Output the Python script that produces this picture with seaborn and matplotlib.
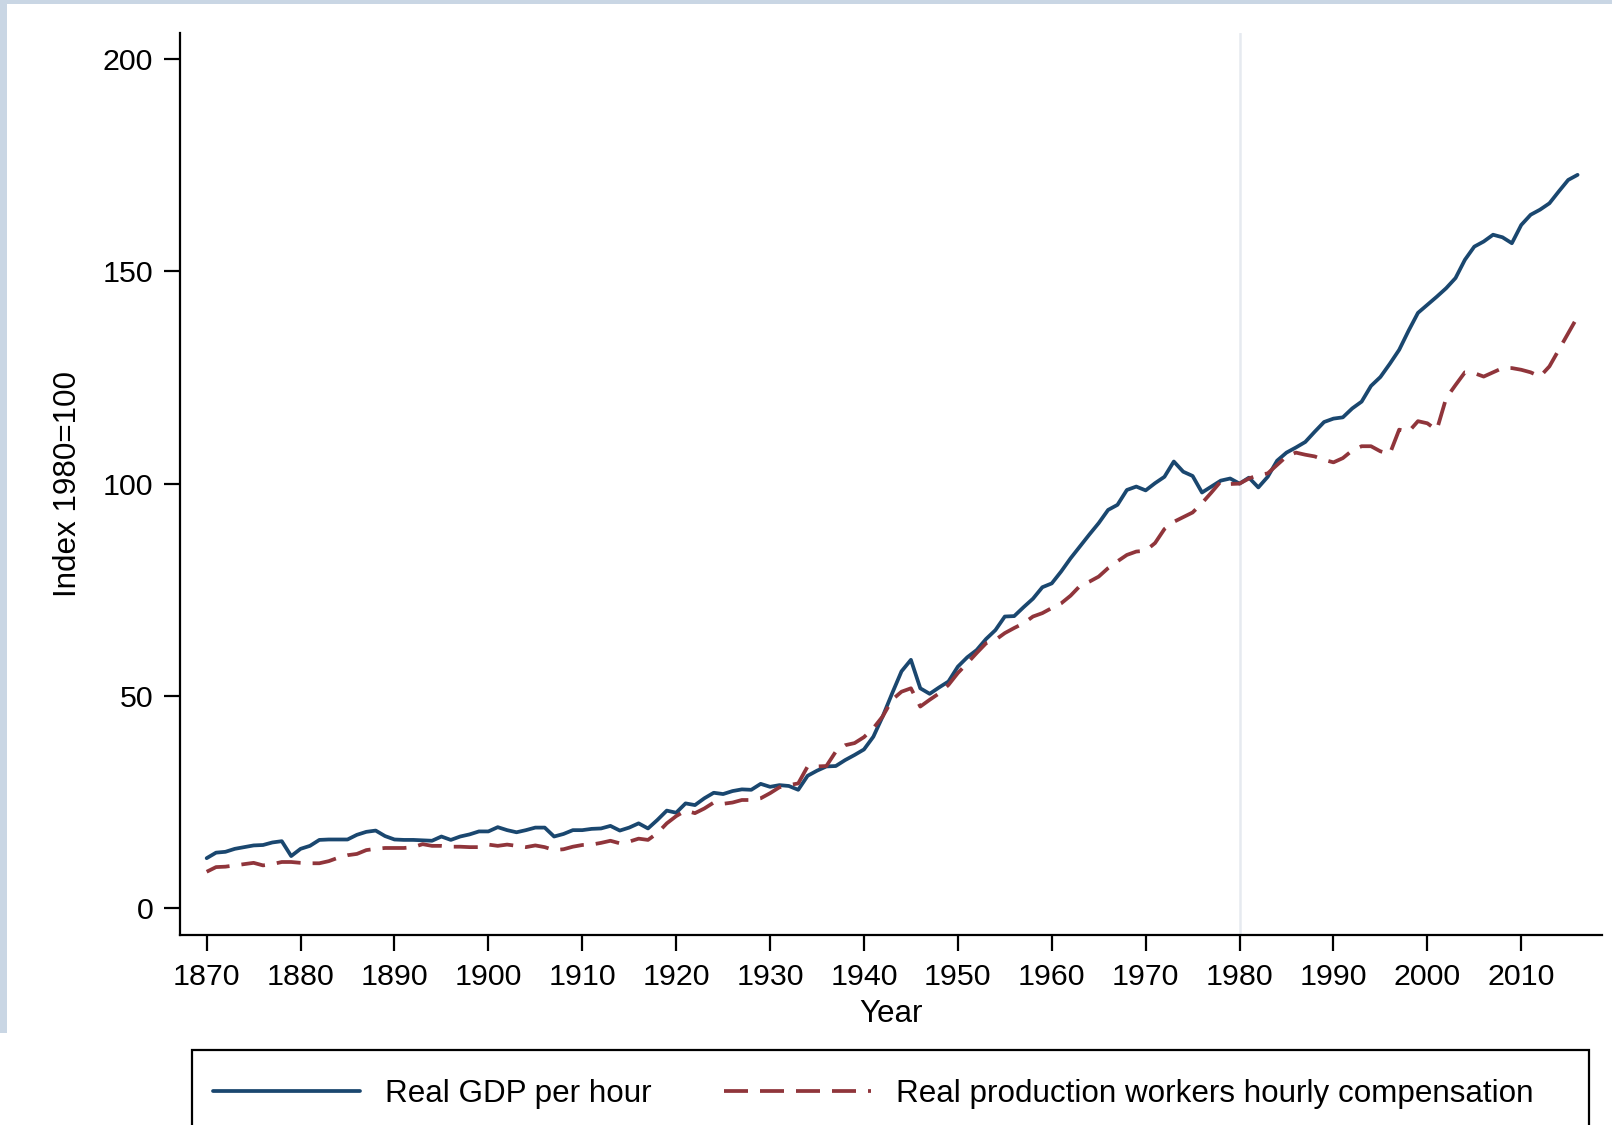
import numpy as np
import pandas as pd
import matplotlib
matplotlib.use("Agg")
import matplotlib.pyplot as plt
from matplotlib.patches import Rectangle
import seaborn as sns

# ---------------- data ----------------
years = list(range(1870, 2017))

gdp_per_hour = [
    11.8, 13.1, 13.3, 14.0, 14.4, 14.8, 14.9, 15.5, 15.8, 12.3,   # 1870-1879
    14.0, 14.7, 16.1, 16.2, 16.2, 16.2, 17.3, 18.0, 18.3, 17.0,   # 1880-1889
    16.2, 16.1, 16.1, 16.0, 15.9, 16.9, 16.1, 16.9, 17.4, 18.1,   # 1890-1899
    18.1, 19.1, 18.4, 17.9, 18.4, 19.0, 19.0, 16.9, 17.5, 18.4,   # 1900-1909
    18.4, 18.7, 18.8, 19.4, 18.3, 19.0, 20.0, 18.8, 20.8, 23.0,   # 1910-1919
    22.5, 24.7, 24.3, 25.9, 27.2, 26.9, 27.6, 28.0, 27.9, 29.3,   # 1920-1929
    28.6, 29.0, 28.8, 27.9, 31.2, 32.4, 33.4, 33.5, 34.9, 36.1,   # 1930-1939
    37.4, 40.4, 45.2, 50.6, 55.8, 58.5, 51.8, 50.5, 52.0, 53.4,   # 1940-1949
    56.9, 59.1, 60.8, 63.4, 65.5, 68.7, 68.8, 70.9, 72.9, 75.6,   # 1950-1959
    76.5, 79.3, 82.4, 85.2, 88.0, 90.7, 93.8, 95.0, 98.5, 99.3,   # 1960-1969
    98.4, 100.1, 101.6, 105.2, 102.8, 101.8, 97.9, 99.3, 100.7, 101.2,  # 1970-1979
    100.0, 101.4, 99.1, 101.6, 105.4, 107.3, 108.5, 109.8, 112.2, 114.5,  # 1980-1989
    115.3, 115.6, 117.7, 119.3, 123.0, 125.1, 128.2, 131.5, 136.0, 140.2,  # 1990-1999
    142.1, 144.0, 146.0, 148.4, 152.7, 155.8, 157.0, 158.6, 158.0, 156.6,  # 2000-2009
    160.9, 163.3, 164.5, 166.0, 168.8, 171.5, 172.7,                       # 2010-2016
]

worker_comp = [
    8.6, 9.7, 9.8, 10.1, 10.4, 10.7, 10.1, 10.4, 10.9, 10.9,      # 1870-1879
    10.7, 10.6, 10.6, 11.1, 11.9, 12.5, 12.8, 13.7, 14.0, 14.2,   # 1880-1889
    14.2, 14.2, 14.4, 15.1, 14.7, 14.7, 14.5, 14.5, 14.4, 14.4,   # 1890-1899
    15.0, 14.7, 15.0, 14.7, 14.4, 14.8, 14.4, 13.7, 13.9, 14.5,   # 1900-1909
    14.9, 15.0, 15.4, 15.9, 15.3, 15.7, 16.4, 16.1, 17.7, 20.0,   # 1910-1919
    21.7, 23.0, 22.4, 23.5, 24.9, 24.6, 24.9, 25.5, 25.5, 25.9,   # 1920-1929
    27.1, 28.5, 29.0, 29.4, 33.4, 33.4, 33.5, 36.9, 38.4, 38.9,   # 1930-1939
    40.3, 42.4, 45.2, 49.1, 51.0, 51.8, 47.5, 49.1, 50.6, 52.6,   # 1940-1949
    55.4, 57.7, 60.1, 62.4, 63.2, 64.8, 66.0, 67.1, 68.7, 69.5,   # 1950-1959
    70.7, 71.8, 73.6, 75.9, 76.9, 78.1, 80.1, 81.7, 83.2, 84.0,   # 1960-1969
    84.2, 86.0, 89.3, 91.0, 92.1, 93.2, 95.4, 97.9, 100.5, 99.9,  # 1970-1979
    100.0, 101.2, 102.0, 102.4, 104.4, 106.4, 107.3, 106.8, 106.4, 105.6,  # 1980-1989
    105.0, 106.0, 107.8, 108.8, 108.8, 107.6, 107.0, 112.7, 112.2, 114.7,  # 1990-1999
    114.2, 112.6, 120.1, 123.2, 126.2, 126.0, 125.2, 126.2, 127.2, 127.2,  # 2000-2009
    126.8, 126.2, 125.2, 127.6, 131.5, 135.4, 139.3,                       # 2010-2016
]

series_names = ["Real GDP per hour", "Real production workers hourly compensation"]
x_ticks = list(range(1870, 2011, 10))
y_ticks = [0, 50, 100, 150, 200]
x_title = "Year"
y_title = "Index 1980=100"
ref_year = 1980

df = pd.DataFrame({
    "Year": years * 2,
    "value": gdp_per_hour + worker_comp,
    "series": [series_names[0]] * len(years) + [series_names[1]] * len(years),
})

# ---------------- style ----------------
sns.set_theme(style="ticks")
plt.rcParams["font.family"] = ["Liberation Sans", "DejaVu Sans"]

W, H = 1612, 1125
FS = 21.9      # tick labels
TFS = 22.6     # axis titles
LFS = 22.6     # legend
fig = plt.figure(figsize=(W / 100, H / 100), dpi=100)
fig.patch.set_facecolor("white")

# light screenshot border (top and left)
border = "#c9d6e4"
fig.patches.append(Rectangle((0, 1 - 4 / H), 1, 4 / H, transform=fig.transFigure,
                             facecolor=border, edgecolor="none", zorder=0))
fig.patches.append(Rectangle((0, 1 - 1033 / H), 7 / W, 1033 / H, transform=fig.transFigure,
                             facecolor=border, edgecolor="none", zorder=0))

ax_l, ax_r, ax_t, ax_b = 180, 1602, 33, 935
ax = fig.add_axes([ax_l / W, 1 - ax_b / H, (ax_r - ax_l) / W, (ax_b - ax_t) / H])
ax.set_facecolor("white")

ax.axvline(ref_year, color="#e6eaf0", lw=1.8, zorder=0)

palette = {series_names[0]: "#1a476f", series_names[1]: "#90353b"}
dashes = {series_names[0]: "", series_names[1]: (6.4, 3.2)}
sns.lineplot(data=df, x="Year", y="value", hue="series", style="series",
             palette=palette, dashes=dashes, estimator=None, lw=2.7, ax=ax,
             legend=True)

handles, labels = ax.get_legend_handles_labels()
ax.get_legend().remove()

ax.set_xlim(1867.16, 2018.6)
ax.set_ylim(-6.29, 206.1)
ax.set_xticks(x_ticks)
ax.set_yticks(y_ticks)
ax.set_xticklabels([str(v) for v in x_ticks])
ax.set_yticklabels([str(v) for v in y_ticks])

for s in ["top", "right"]:
    ax.spines[s].set_visible(False)
for s in ["left", "bottom"]:
    ax.spines[s].set_linewidth(1.6)
    ax.spines[s].set_color("black")

ax.tick_params(axis="both", direction="out", length=11.5, width=1.6,
               colors="black", labelsize=FS)
ax.tick_params(axis="x", pad=8.4)
ax.tick_params(axis="y", pad=7.7)

ax.set_xlabel(x_title, fontsize=TFS, color="black")
ax.set_ylabel(y_title, fontsize=TFS, color="black")
ax.xaxis.set_label_coords(0.5, -(999 - ax_b) / (ax_b - ax_t))
ax.yaxis.set_label_coords((68 - ax_l) / (ax_r - ax_l), 0.5)
ax.yaxis.label.set_va("center")
ax.grid(False)

# legend (frame drawn as a separate box which runs off the bottom of the screenshot)
leg = fig.legend(handles, labels, loc="center left",
                 bbox_to_anchor=(213 / W, 1 - 1094 / H), bbox_transform=fig.transFigure,
                 ncol=2, frameon=False, fontsize=LFS, borderpad=0, borderaxespad=0,
                 handlelength=4.68, handletextpad=0.8, columnspacing=2.3)
for t in leg.get_texts():
    t.set_color("black")
for h in leg.legend_handles:
    h.set_linewidth(2.7)
fig.patches.append(Rectangle((192 / W, -0.05), (1589 - 192) / W, (H - 1050) / H + 0.05,
                             transform=fig.transFigure, fill=False,
                             edgecolor="black", lw=1.6, zorder=1))

fig.savefig("out.png", dpi=100)
